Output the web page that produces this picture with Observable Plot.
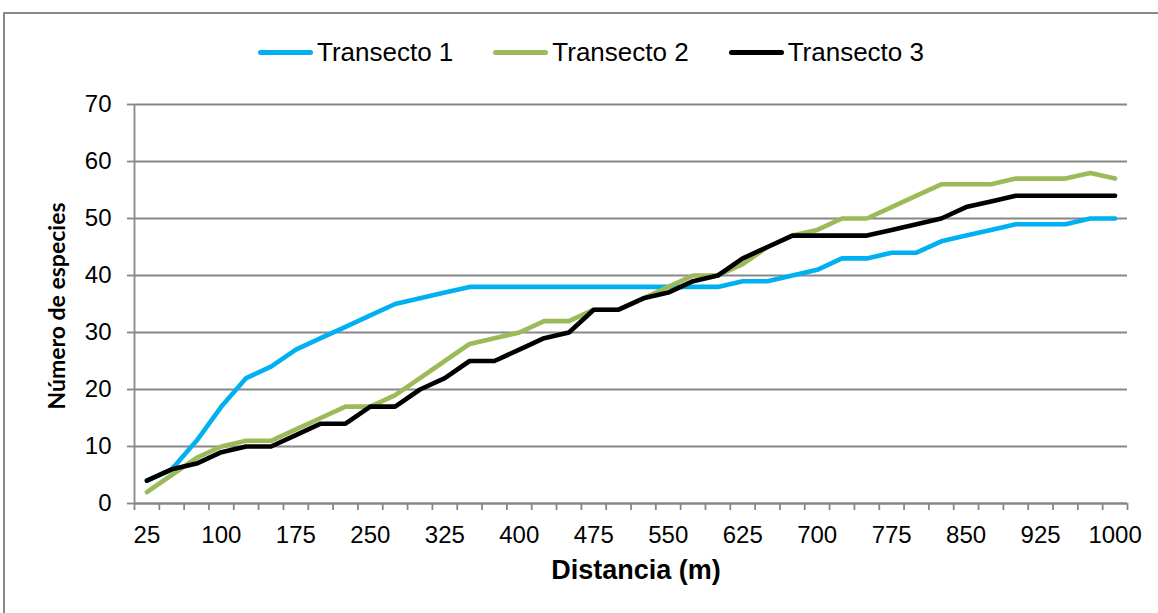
<!DOCTYPE html>
<html><head><meta charset="utf-8">
<script src="https://cdn.jsdelivr.net/npm/d3@7"></script>
<script src="https://cdn.jsdelivr.net/npm/@observablehq/plot@0.6"></script>
<style>
html,body{margin:0;padding:0;background:#fff;}
#wrap{position:relative;width:1158px;height:613px;overflow:hidden;}
#border{position:absolute;left:3px;top:12px;width:1170px;height:620px;border:2px solid #8a8a8a;box-sizing:border-box;}
#legend{position:absolute;left:258px;top:37px;height:30px;display:flex;align-items:center;font-family:"Liberation Sans",Arial,sans-serif;font-size:26px;line-height:30px;color:#000;}
.item{display:flex;align-items:center;margin-right:40px;}
.sw{width:55px;height:5px;border-radius:3px;margin-right:4px;}
#chart{position:absolute;left:0;top:0;}
</style></head>
<body>
<div id="wrap"><div id="border"></div><div id="legend"></div><div id="chart"></div></div>
<script>
const distances = [25,50,75,100,125,150,175,200,225,250,275,300,325,350,375,400,425,450,475,500,525,550,575,600,625,650,675,700,725,750,775,800,825,850,875,900,925,950,975,1000];
const transecto1 = [4,6,11,17,22,24,27,29,31,33,35,36,37,38,38,38,38,38,38,38,38,38,38,38,39,39,40,41,43,43,44,44,46,47,48,49,49,49,50,50];
const transecto2 = [2,5,8,10,11,11,13,15,17,17,19,22,25,28,29,30,32,32,34,34,36,38,40,40,42,45,47,48,50,50,52,54,56,56,56,57,57,57,58,57];
const transecto3 = [4,6,7,9,10,10,12,14,14,17,17,20,22,25,25,27,29,30,34,34,36,37,39,40,43,45,47,47,47,47,48,49,50,52,53,54,54,54,54,54];
const seriesNames = ["Transecto 1","Transecto 2","Transecto 3"];
const seriesColors = ["#00B0F0","#9BBB59","#000000"];
const xTickLabels = [25,100,175,250,325,400,475,550,625,700,775,850,925,1000];
const yTicks = [0,10,20,30,40,50,60,70];

const seriesValues = [transecto1, transecto2, transecto3];
const rows = [];
seriesNames.forEach((s, k) => distances.forEach((d, i) => rows.push({d, v: seriesValues[k][i], s})));

const step = distances[1] - distances[0];
const xDomain = [distances[0] - step / 2, distances[distances.length - 1] + step / 2];
const boundaries = d3.range(distances.length + 1).map(i => xDomain[0] + i * step);

// legend
const leg = document.getElementById("legend");
seriesNames.forEach((s, k) => {
  const it = document.createElement("div"); it.className = "item";
  const sw = document.createElement("div"); sw.className = "sw"; sw.style.background = seriesColors[k];
  const tx = document.createElement("span"); tx.textContent = s;
  it.appendChild(sw); it.appendChild(tx); leg.appendChild(it);
});

const gridColor = "#878787";
const chart = Plot.plot({
  width: 1158,
  height: 613,
  marginLeft: 134,
  marginRight: 31,
  marginTop: 104,
  marginBottom: 110,
  style: {fontFamily: "'Liberation Sans', Arial, sans-serif", fontSize: "24px", color: "#000", background: "transparent"},
  x: {type: "linear", domain: xDomain},
  y: {domain: [0, 70]},
  color: {domain: seriesNames, range: seriesColors},
  marks: [
    Plot.gridY(yTicks, {stroke: gridColor, strokeOpacity: 1, strokeWidth: 1.8}),
    Plot.axisY(yTicks, {tickSize: 7, tickPadding: 16, stroke: gridColor, strokeOpacity: 1, strokeWidth: 1.8, fontSize: 24, label: null}),
    Plot.axisX(boundaries, {tickSize: 7, stroke: gridColor, strokeOpacity: 1, strokeWidth: 1.8, tickFormat: () => "", label: null}),
    Plot.axisX(xTickLabels, {tickSize: 0, tickPadding: 22, fontSize: 24, tickFormat: d => String(d), label: null}),
    Plot.ruleY([0], {stroke: gridColor, strokeWidth: 1.8}),
    Plot.ruleX([xDomain[0]], {stroke: gridColor, strokeWidth: 1.8}),
    Plot.line(rows, {x: "d", y: "v", z: "s", stroke: "s", strokeWidth: 4.6, strokeLinejoin: "round", strokeLinecap: "round"}),
    Plot.text(["Número de especies"], {frameAnchor: "left", textAnchor: "middle", rotate: -90, dx: -77, dy: 2, fontFamily: "Lato, 'Open Sans', sans-serif", fontWeight: "bold", fontSize: 23, fill: "#000"}),
    Plot.text(["Distancia (m)"], {frameAnchor: "bottom", dy: 75, dx: 5, fontFamily: "'Liberation Sans', Arial, sans-serif", fontWeight: "bold", fontSize: 27, fill: "#000"})
  ]
});
document.getElementById("chart").appendChild(chart);
</script>
</body></html>
